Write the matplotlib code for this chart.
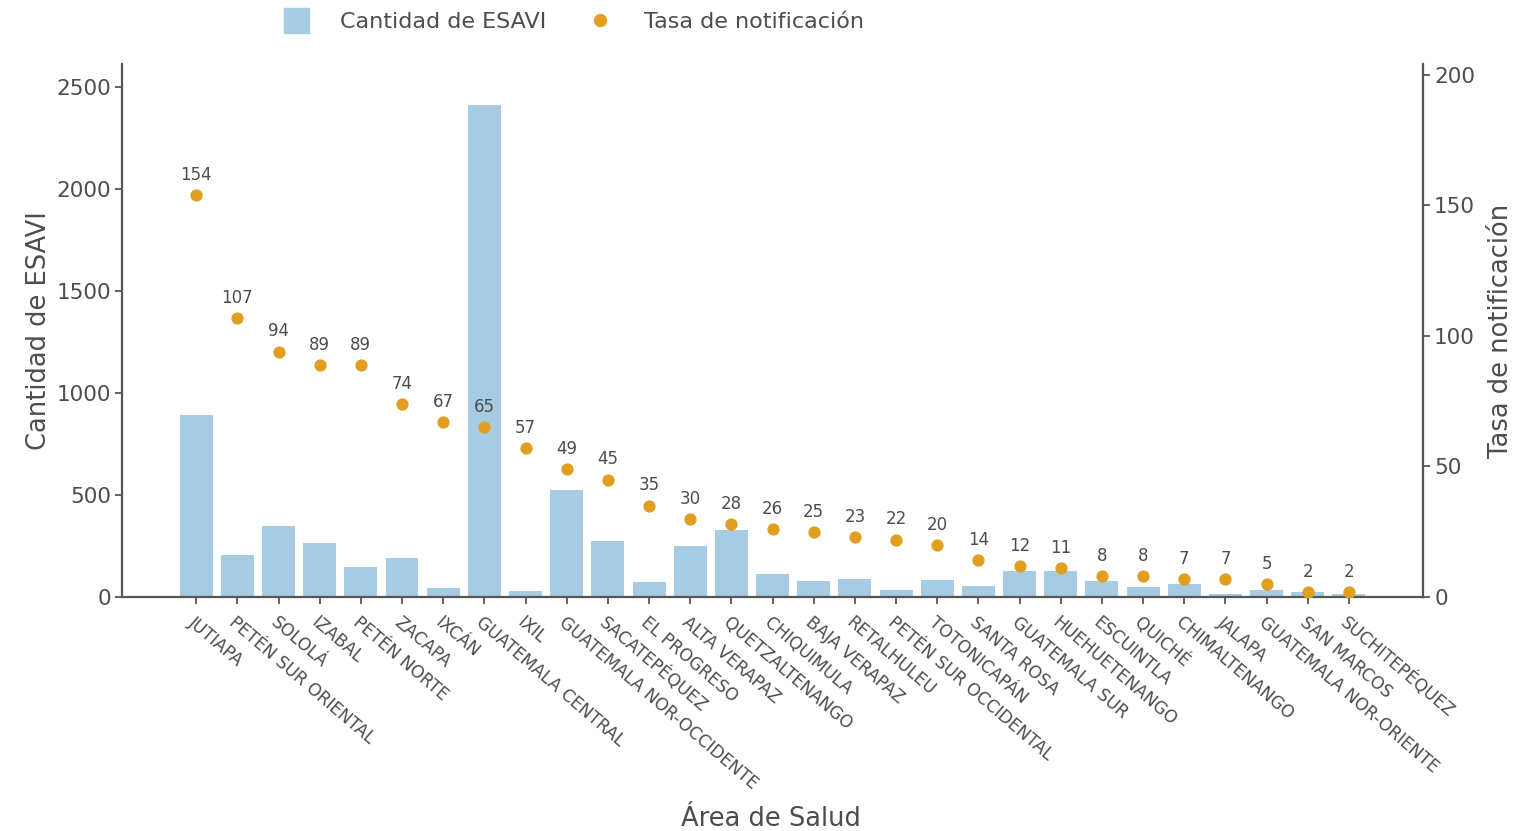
import matplotlib
matplotlib.use("Agg")
import matplotlib.pyplot as plt
from matplotlib.lines import Line2D
import numpy as np

plt.rcParams['font.family'] = ['DejaVu Sans']

areas = ["JUTIAPA", "PETÉN SUR ORIENTAL", "SOLOLÁ", "IZABAL", "PETÉN NORTE",
         "ZACAPA", "IXCÁN", "GUATEMALA CENTRAL", "IXIL", "GUATEMALA NOR-OCCIDENTE",
         "SACATEPÉQUEZ", "EL PROGRESO", "ALTA VERAPAZ", "QUETZALTENANGO", "CHIQUIMULA",
         "BAJA VERAPAZ", "RETALHULEU", "PETÉN SUR OCCIDENTAL", "TOTONICAPÁN", "SANTA ROSA",
         "GUATEMALA SUR", "HUEHUETENANGO", "ESCUINTLA", "QUICHÉ", "CHIMALTENANGO",
         "JALAPA", "GUATEMALA NOR-ORIENTE", "SAN MARCOS", "SUCHITEPÉQUEZ"]
cantidad = [890, 208, 349, 265, 149, 190, 43, 2410, 31, 523,
            275, 75, 249, 326, 112, 80, 90, 33, 82, 54,
            129, 128, 77, 49, 65, 16, 33, 25, 16]
tasa = [154, 107, 94, 89, 89, 74, 67, 65, 57, 49,
        45, 35, 30, 28, 26, 25, 23, 22, 20, 14,
        12, 11, 8, 8, 7, 7, 5, 2, 2]
left_ticks = [0, 500, 1000, 1500, 2000, 2500]
right_ticks = [0, 50, 100, 150, 200]

BAR = "#a6cbe3"
DOT = "#e29f1f"
TXT = "#4d4d4d"
AX = "#555555"

fig = plt.figure(figsize=(15.22, 8.31), dpi=100)
ax = fig.add_axes([0.0802, 0.2816, 0.8548, 0.6414])
ax2 = ax.twinx()

x = np.arange(len(areas))
ax.bar(x, cantidad, width=0.8, color=BAR, zorder=2)
ax2.scatter(x, tasa, s=78, color=DOT, zorder=3, linewidths=0)
for xi, v in zip(x, tasa):
    ax2.annotate(str(v), (xi, v), xytext=(0, 14.5), textcoords="offset points",
                 ha="center", va="center", fontsize=12, color=TXT)

ax.set_xlim(-1.8, len(areas) - 1 + 1.8)
ax.set_ylim(0, 2613)
ax2.set_ylim(0, 204.2)

ax.set_yticks(left_ticks)
ax.set_yticklabels([str(t) for t in left_ticks])
ax2.set_yticks(right_ticks)
ax2.set_yticklabels([str(t) for t in right_ticks])
ax.set_xticks(x)
ax.set_xticklabels(areas, rotation=-40.5, ha="left", va="top", rotation_mode="anchor",
                   fontsize=12.3, color=TXT)

for a in (ax, ax2):
    a.spines['top'].set_visible(False)
    for s in a.spines.values():
        s.set_color(AX)
        s.set_linewidth(1.6)
    a.tick_params(colors=AX, labelcolor=TXT, length=5, width=1.3, labelsize=15.5)
ax.spines['right'].set_visible(False)
ax2.spines['left'].set_visible(False)
ax2.spines['bottom'].set_visible(False)
ax.tick_params(axis='x', labelsize=12.3, pad=7)
ax.tick_params(axis='y', pad=3)
ax2.tick_params(axis='y', pad=3)

ax.set_xlabel("Área de Salud", fontsize=18.5, color=TXT)
ax.set_ylabel("Cantidad de ESAVI", fontsize=18.5, color=TXT, labelpad=3)
ax2.set_ylabel("Tasa de notificación", fontsize=18.5, color=TXT, labelpad=9)
ax.xaxis.set_label_coords(0.499, -0.392)

handles = [Line2D([], [], marker="s", linestyle="none", markersize=18, color=BAR),
           Line2D([], [], marker="o", linestyle="none", markersize=8.6, color=DOT)]
fig.legend(handles, ["Cantidad de ESAVI", "Tasa de notificación"], loc="center left",
           bbox_to_anchor=(274 / 1522, 1 - 22 / 831), ncol=2, frameon=False,
           fontsize=16, handlelength=2, handletextpad=0.98, columnspacing=1.43,
           borderpad=0, borderaxespad=0, labelcolor=TXT)

fig.savefig("out.png", dpi=100)
